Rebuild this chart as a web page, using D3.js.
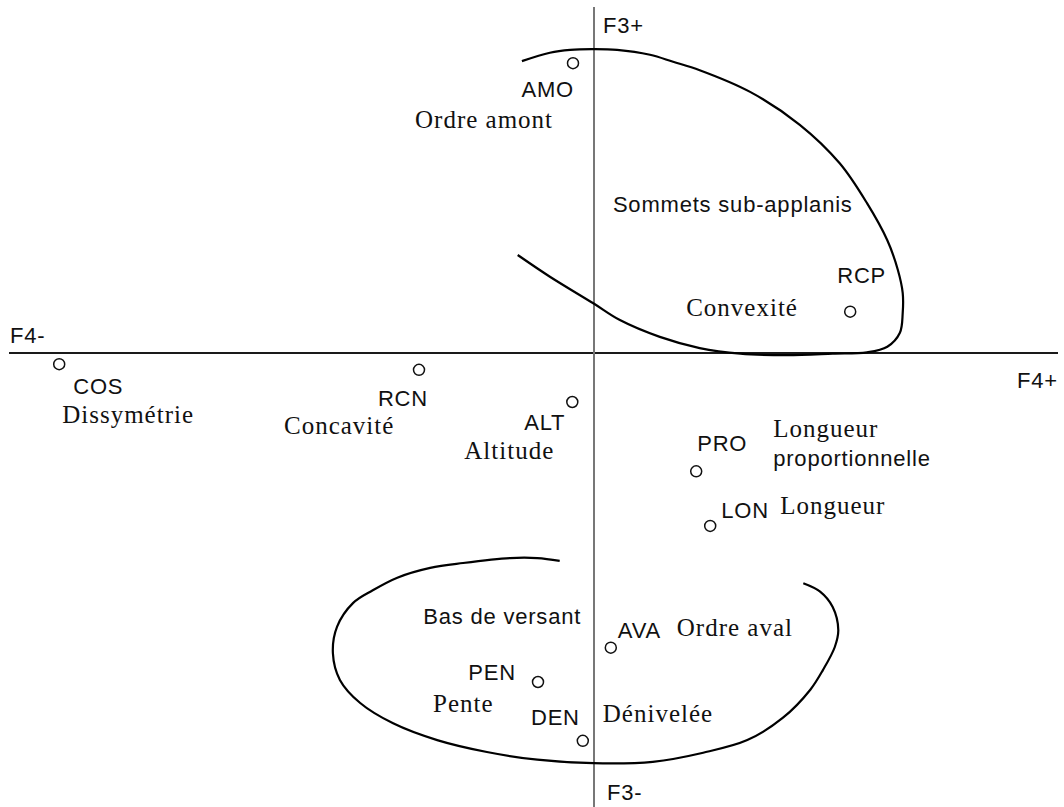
<!DOCTYPE html>
<html>
<head>
<meta charset="utf-8">
<script src="https://cdn.jsdelivr.net/npm/d3@7"></script>
<style>
	body { margin: 0; background: #fff; }
	.code { font-family: "Liberation Sans", Arial, sans-serif; font-size: 22px; letter-spacing: 0.8px; fill: #111; }
	.desc { font-family: "Liberation Serif", "Times New Roman", serif; font-size: 25px; letter-spacing: 1px; fill: #111; }
</style>
</head>
<body>
<div id="dataviz"></div>
<script>
// variables (coordonnees sur F4 / F3)
const codes = ["AMO", "COS", "RCN", "ALT", "RCP", "PRO", "LON", "AVA", "PEN", "DEN"];
const f4 = [-0.030, -0.764, -0.250, -0.031, 0.366, 0.146, 0.166, 0.024, -0.080, -0.016];
const f3 = [0.414, -0.016, -0.024, -0.070, 0.059, -0.169, -0.247, -0.421, -0.470, -0.554];
const descriptions = ["Ordre amont", "Dissymétrie", "Concavité", "Altitude", "Convexité",
	"Longueur", "Longueur", "Ordre aval", "Pente", "Dénivelée"];

// contours des groupes
const sommetsF4 = [-0.109, -0.063, -0.001, 0.037, 0.094, 0.151, 0.209, 0.276, 0.341, 0.390, 0.419, 0.437,
	0.441, 0.441, 0.434, 0.419, 0.390, 0.351, 0.294, 0.223, 0.151, 0.113, 0.080, 0.033, -0.003, -0.034, -0.063, -0.103];
const sommetsF3 = [0.140, 0.109, 0.071, 0.047, 0.023, 0.007, -0.001, -0.003, -0.001, 0.001, 0.009, 0.029,
	0.057, 0.086, 0.119, 0.161, 0.214, 0.271, 0.326, 0.373, 0.404, 0.416, 0.426, 0.433, 0.434, 0.433, 0.429, 0.417];
const basF4 = [-0.049, -0.081, -0.120, -0.187, -0.234, -0.281, -0.316, -0.344, -0.367, -0.373, -0.363, -0.334,
	-0.287, -0.224, -0.153, -0.081, -0.001, 0.084, 0.156, 0.219, 0.270, 0.309, 0.327, 0.344, 0.349, 0.341, 0.323, 0.299];
const basF3 = [-0.297, -0.293, -0.293, -0.300, -0.307, -0.321, -0.339, -0.357, -0.391, -0.429, -0.467, -0.500,
	-0.529, -0.553, -0.570, -0.581, -0.586, -0.584, -0.571, -0.553, -0.521, -0.481, -0.453, -0.420, -0.396, -0.363, -0.341, -0.329];

const groupes = ["Sommets sub-applanis", "Bas de versant"];
const groupesF4 = [0.027, -0.244];
const groupesF3 = [0.201, -0.387];

// decalage des etiquettes (px) : [dx, dy, ancre] pour le code, [dx, dy] pour la description
const placeCode = [[1, 34, "end"], [14, 30, "start"], [9, 36, "end"], [-7, 28, "end"], [-13, -29, "start"],
	[1, -20, "start"], [11, -8, "start"], [7, -10, "start"], [-22, -2, "end"], [-3, -16, "end"]];
const placeDesc = [[-158, 65], [3, 59], [-135, 64], [-108, 57], [-164, 4],
	[77, -34], [70, -12], [66, -12], [-105, 30], [20, -19]];

var svgWidth = 1064;
var svgHeight = 807;

var svg = d3.select("#dataviz")
	.append("svg")
	.attr("width", svgWidth)
	.attr("height", svgHeight);

var x = d3.scaleLinear()
	.domain([-0.84, 0.66])
	.range([6, 1056]);

var y = d3.scaleLinear()
	.domain([0.50, -0.65])
	.range([3, 808]);

// axes
svg.append("line")
	.attr("x1", 9).attr("x2", 1058)
	.attr("y1", y(0)).attr("y2", y(0))
	.attr("stroke", "#1a1a1a")
	.attr("stroke-width", 2);

svg.append("line")
	.attr("x1", x(0)).attr("x2", x(0))
	.attr("y1", 7).attr("y2", svgHeight)
	.attr("stroke", "#777")
	.attr("stroke-width", 2);

svg.append("text").attr("class", "code").attr("x", x(0) + 9).attr("y", 33).text("F3+");
svg.append("text").attr("class", "code").attr("x", x(0) + 13).attr("y", 800).text("F3-");
svg.append("text").attr("class", "code").attr("x", 10).attr("y", y(0) - 10).text("F4-");
svg.append("text").attr("class", "code").attr("x", 1058).attr("y", y(0) + 35)
	.attr("text-anchor", "end").text("F4+");

// contours
var contour = d3.line()
	.x(function(d) { return x(d[0]); })
	.y(function(d) { return y(d[1]); })
	.curve(d3.curveCatmullRom.alpha(0.5));

svg.append("path")
	.datum(d3.zip(sommetsF4, sommetsF3))
	.attr("fill", "none")
	.attr("stroke", "#000")
	.attr("stroke-width", 2.2)
	.attr("d", contour);

svg.append("path")
	.datum(d3.zip(basF4, basF3))
	.attr("fill", "none")
	.attr("stroke", "#000")
	.attr("stroke-width", 2.2)
	.attr("d", contour);

svg.selectAll(".groupe")
	.data(groupes)
	.enter().append("text")
	.attr("class", "code groupe")
	.attr("x", function(d, i) { return x(groupesF4[i]); })
	.attr("y", function(d, i) { return y(groupesF3[i]); })
	.text(function(d) { return d; });

// points
var data = codes.map(function(c, i) {
	return {code: c, f4: f4[i], f3: f3[i], desc: descriptions[i], i: i};
});

svg.selectAll("circle")
	.data(data)
	.enter().append("circle")
	.attr("r", 5.5)
	.attr("cx", function(d) { return x(d.f4); })
	.attr("cy", function(d) { return y(d.f3); })
	.attr("fill", "#fff")
	.attr("stroke", "#111")
	.attr("stroke-width", 1.5);

svg.selectAll(".lbl")
	.data(data)
	.enter().append("text")
	.attr("class", "code lbl")
	.attr("x", function(d) { return x(d.f4) + placeCode[d.i][0]; })
	.attr("y", function(d) { return y(d.f3) + placeCode[d.i][1]; })
	.attr("text-anchor", function(d) { return placeCode[d.i][2]; })
	.text(function(d) { return d.code; });

svg.selectAll(".dsc")
	.data(data)
	.enter().append("text")
	.attr("class", "desc dsc")
	.attr("x", function(d) { return x(d.f4) + placeDesc[d.i][0]; })
	.attr("y", function(d) { return y(d.f3) + placeDesc[d.i][1]; })
	.text(function(d) { return d.desc; });

// deuxieme ligne pour PRO
var pro = data[codes.indexOf("PRO")];
svg.append("text")
	.attr("class", "code")
	.attr("x", x(pro.f4) + placeDesc[pro.i][0])
	.attr("y", y(pro.f3) - 5)
	.text("proportionnelle");
</script>
</body>
</html>
